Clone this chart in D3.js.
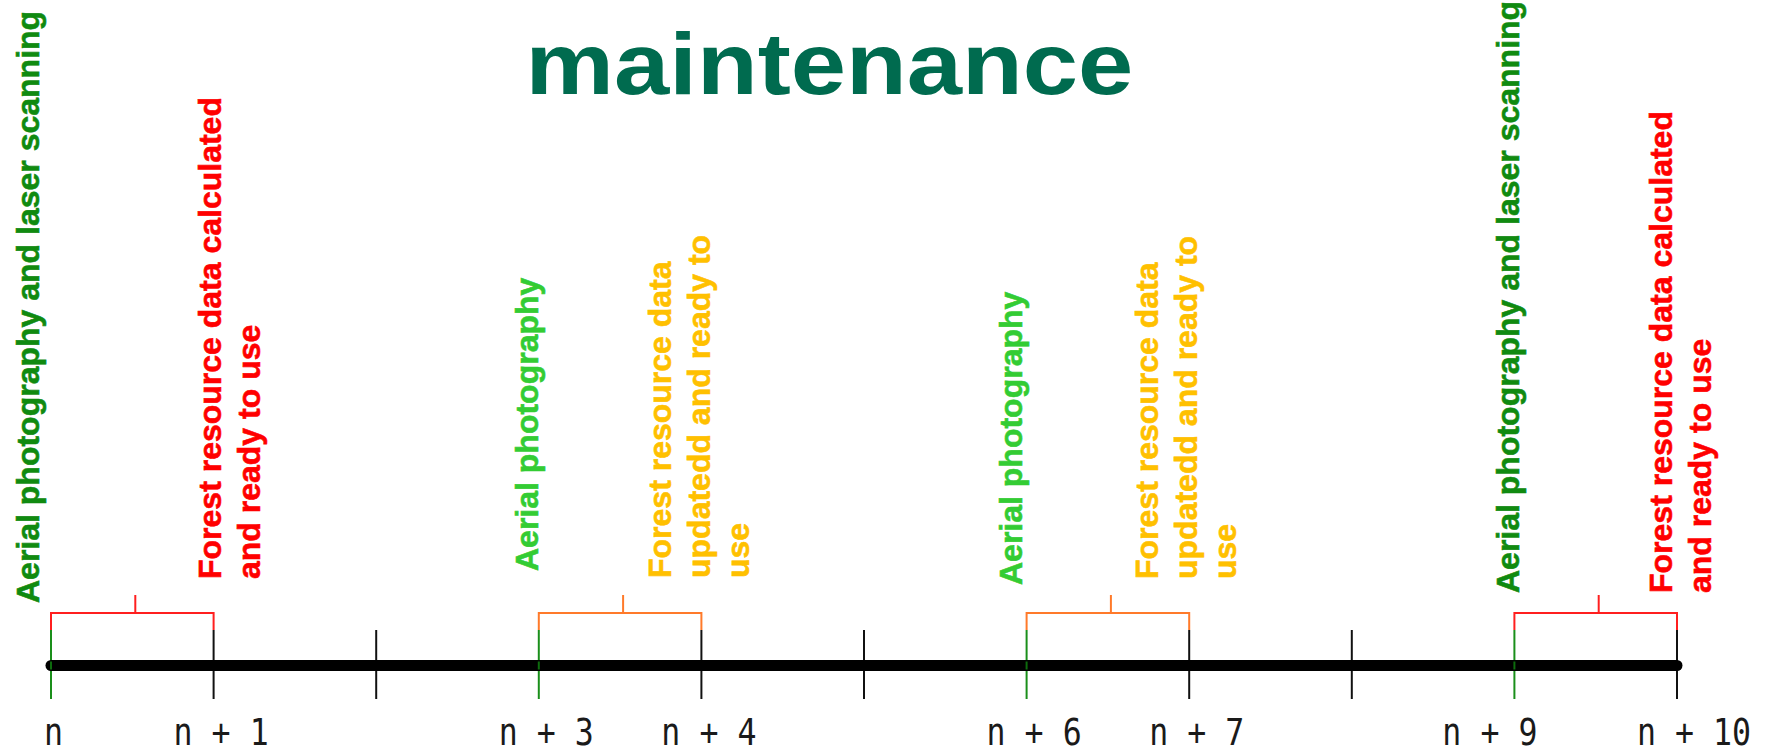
<!DOCTYPE html>
<html><head><meta charset="utf-8">
<script src="https://cdn.jsdelivr.net/npm/d3@7"></script>
<style>html,body{margin:0;padding:0;background:#fff;overflow:hidden}</style>
</head><body>
<svg id="chart" width="1779" height="754"></svg>
<script>
// ---------- data ----------
const titleText = "maintenance";
const years = [0, 1, 2, 3, 4, 5, 6, 7, 8, 9, 10];
const tickLabels = ["n", "n + 1", "", "n + 3", "n + 4", "", "n + 6", "n + 7", "", "n + 9", "n + 10"];
const photoYears = [0, 3, 6, 9];
const periodStarts = [0, 3, 6, 9];
const periodEnds = [1, 4, 7, 10];
const periodKinds = ["full", "update", "update", "full"];
const eventYears = [0, 1, 3, 4, 6, 7, 9, 10];
const eventKinds = ["scan", "full", "photo", "update", "photo", "update", "scan", "full"];
const eventTexts = [
  ["Aerial photography and laser scanning"],
  ["Forest resource data calculated", "and ready to use"],
  ["Aerial photography"],
  ["Forest resource data", "updatedd and ready to", "use"],
  ["Aerial photography"],
  ["Forest resource data", "updatedd and ready to", "use"],
  ["Aerial photography and laser scanning"],
  ["Forest resource data calculated", "and ready to use"]
];

// ---------- styles / layout ----------
const textColor = {scan: "#108a10", full: "#ff0000", photo: "#33cc33", update: "#ffc000"};
const bracketColor = {full: "#ff1f1f", update: "#ff7a2a"};
const labelShift = [-12, 7, -1, -30, -5, -31, 5, -5];   // baseline offset from its tick
const labelBottom = [603, 579, 571, 578, 585, 579, 593, 593];
const tickLabelNudge = {9: -32};

const svg = d3.select("#chart");
const x = d3.scaleLinear().domain([0, 10]).range([51, 1677]);

const axisY = 665.5, tickTop = 630, tickBottom = 699;
const brTop = 613, brRiser = 595;

// title
svg.append("text")
  .attr("transform", `translate(${829.5},94) scale(1.13,1)`)
  .attr("text-anchor", "middle")
  .attr("font-family", "'Liberation Sans', Arial, sans-serif")
  .attr("font-weight", "bold")
  .attr("font-size", 88)
  .attr("fill", "#006b4f")
  .text(titleText);

// ticks
svg.append("g").selectAll("line").data(years).join("line")
  .attr("x1", d => x(d)).attr("x2", d => x(d))
  .attr("y1", tickTop).attr("y2", tickBottom)
  .attr("stroke", d => photoYears.includes(d) ? "#1a8f1a" : "#111")
  .attr("stroke-width", 2);

// axis bar
svg.append("line")
  .attr("x1", x(0)).attr("x2", x(10))
  .attr("y1", axisY).attr("y2", axisY)
  .attr("stroke", "#000").attr("stroke-width", 11)
  .attr("stroke-linecap", "round");

// coloured tick stems over the bar for photo years
svg.append("g").selectAll("line").data(photoYears).join("line")
  .attr("x1", d => x(d)).attr("x2", d => x(d))
  .attr("y1", axisY - 4).attr("y2", axisY + 4)
  .attr("stroke", "#0d6b0d").attr("stroke-width", 2);

// brackets
const periods = periodStarts.map((s, i) => ({s, e: periodEnds[i], k: periodKinds[i]}));
const bg = svg.append("g").attr("fill", "none").attr("stroke-width", 2);
bg.selectAll("path.br").data(periods).join("path")
  .attr("class", "br")
  .attr("stroke", d => bracketColor[d.k])
  .attr("d", d => `M${x(d.s)},${tickTop}V${brTop}H${x(d.e)}V${tickTop}`);
bg.selectAll("path.riser").data(periods).join("path")
  .attr("class", "riser")
  .attr("stroke", d => bracketColor[d.k])
  .attr("d", d => { const m = (x(d.s) + x(d.e)) / 2 + 3; return `M${m},${brTop}V${brRiser}`; });

// tick labels
const monoSize = 31.6, adv = monoSize * 0.602;
svg.append("g").selectAll("text").data(years.filter(d => tickLabels[d] !== "")).join("text")
  .attr("transform", d => {
    const lab = tickLabels[d];
    const nudge = tickLabelNudge[d] || 0;
    const tx = lab.includes("+") ? x(d) - 2 * adv - 2 + nudge : x(d) + 2.5 + nudge;
    return `translate(${tx},745) scale(1,1.2)`;
  })
  .attr("text-anchor", d => tickLabels[d].includes("+") ? "start" : "middle")
  .attr("font-family", "'DejaVu Sans Mono', monospace")
  .attr("font-size", monoSize)
  .attr("fill", "#1a1a1a")
  .text(d => tickLabels[d]);

// event labels (rotated)
const ev = eventYears.map((yr, i) => ({yr, k: eventKinds[i], lines: eventTexts[i], i}));
const lg = svg.append("g")
  .attr("font-family", "'Liberation Sans', Arial, sans-serif")
  .attr("font-weight", "bold")
  .attr("font-size", 32);
ev.forEach(d => {
  const t = lg.append("text")
    .attr("transform", `translate(${x(d.yr) + labelShift[d.i]},${labelBottom[d.i]}) rotate(-90)`)
    .attr("fill", textColor[d.k])
    .attr("stroke", textColor[d.k])
    .attr("stroke-width", 0.6);
  d.lines.forEach((ln, j) => {
    t.append("tspan").attr("x", 0).attr("y", j * 39).text(ln);
  });
});
</script>
</body></html>
